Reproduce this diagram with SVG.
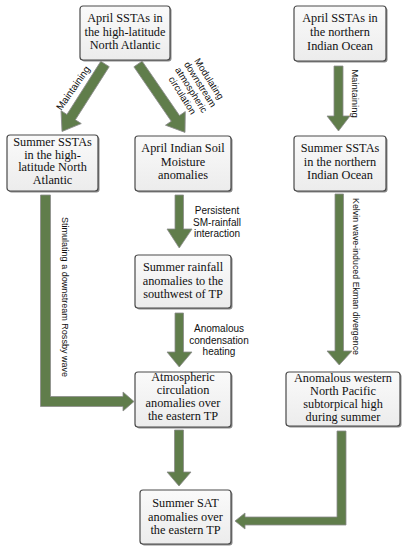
<svg xmlns="http://www.w3.org/2000/svg" width="406" height="550" viewBox="0 0 406 550">
<defs>
<linearGradient id="bg" x1="0" y1="0" x2="0" y2="1">
<stop offset="0" stop-color="#fafafa"/>
<stop offset="1" stop-color="#ececec"/>
</linearGradient>
</defs>
<style>
.box{fill:url(#bg);stroke:#4a4a4a;stroke-width:1.2}
.shd{fill:#8a8a8a}
.bt{font-family:"Liberation Serif","Times New Roman",serif;font-size:12.3px;fill:#111;text-anchor:middle}
.lb{font-family:"Liberation Sans",Arial,sans-serif;font-size:10px;fill:#111;text-anchor:middle}
.ar{fill:#607d4b;stroke:#8c8c8c;stroke-width:0.8;stroke-linejoin:miter}
</style>
<rect width="406" height="550" fill="#ffffff"/>

<g id="connectors">
<path class="ar" transform="translate(105,64) rotate(122.5)" d="M0,-5 L63,-5 L63,-12 L80,0 L63,12 L63,5 L0,5 Z"/>
<path class="ar" transform="translate(138,64) rotate(55.5)" d="M0,-5 L66,-5 L66,-12 L83,0 L66,12 L66,5 L0,5 Z"/>
<path class="ar" d="M334,66 L343,66 L343,116 L350,116 L338.5,131 L327,116 L334,116 Z"/>
<path class="ar" d="M335,194 L343.5,194 L343.5,351 L352,351 L339.25,365 L327,351 L335,351 Z"/>
<path class="ar" d="M175,195 L183.5,195 L183.5,229 L192,229 L179.25,248 L167,229 L175,229 Z"/>
<path class="ar" d="M175,313 L183.5,313 L183.5,352 L192,352 L179.25,367 L167,352 L175,352 Z"/>
<path class="ar" d="M174.5,430 L183.5,430 L183.5,472 L191,472 L179,486 L167,472 L174.5,472 Z"/>
<path class="ar" d="M40.5,195 L50.5,195 L50.5,396.5 L123,396.5 L123,392 L134,401.5 L123,411 L123,406.5 L40.5,406.5 Z"/>
<path class="ar" d="M337,431 L346,431 L346,525 L245,525 L245,529 L235,521 L245,513 L245,517 L337,517 Z"/>
</g>

<g id="edge-labels">
<text class="lb" transform="translate(73,88) rotate(-55)" y="3.5">Maintaining</text>
<g transform="translate(196,87) rotate(58)">
<text class="lb" style="font-size:9.5px" y="-12.25">Modulating</text>
<text class="lb" style="font-size:9.5px" y="-1.75">downstream</text>
<text class="lb" style="font-size:9.5px" y="8.75">atmospheric</text>
<text class="lb" style="font-size:9.5px" y="19.25">circulation</text>
</g>
<text class="lb" transform="translate(355.5,93.5) rotate(90)" y="3.5" style="font-size:9.5px">Maintaining</text>
<text class="lb" transform="translate(356,276.5) rotate(90)" y="3.5" style="font-size:9.5px" textLength="157" lengthAdjust="spacingAndGlyphs">Kelvin wave-induced Ekman divergence</text>
<text class="lb" transform="translate(65.5,297) rotate(90)" y="3.5" style="font-size:9.5px" textLength="160" lengthAdjust="spacingAndGlyphs">Stimulating a downstream Rossby wave</text>
<text class="lb" x="217" y="214">Persistent</text>
<text class="lb" x="217" y="225.5">SM-rainfall</text>
<text class="lb" x="217" y="237">interaction</text>
<text class="lb" x="219" y="332">Anomalous</text>
<text class="lb" x="219" y="343.5">condensation</text>
<text class="lb" x="219" y="355">heating</text>
</g>

<g id="nodeA">
<rect class="shd" x="81.5" y="7.5" width="90" height="54" rx="3"/>
<rect class="box" x="80" y="6" width="90" height="54" rx="3"/>
<text class="bt" x="125" y="22">April SSTAs in</text>
<text class="bt" x="125" y="35.5">the high-latitude</text>
<text class="bt" x="125" y="49">North Atlantic</text>
</g>

<g id="nodeB">
<rect class="shd" x="295.5" y="7.5" width="92" height="55" rx="3"/>
<rect class="box" x="294" y="6" width="92" height="55" rx="3"/>
<text class="bt" x="340" y="22">April SSTAs in</text>
<text class="bt" x="340" y="36">the northern</text>
<text class="bt" x="340" y="49.5">Indian Ocean</text>
</g>

<g id="nodeC">
<rect class="shd" x="8.5" y="136.5" width="91" height="56" rx="3"/>
<rect class="box" x="7" y="135" width="91" height="56" rx="3"/>
<text class="bt" x="52.5" y="146">Summer SSTAs</text>
<text class="bt" x="52.5" y="158.5">in the high-</text>
<text class="bt" x="52.5" y="171">latitude North</text>
<text class="bt" x="52.5" y="183.5">Atlantic</text>
</g>

<g id="nodeD">
<rect class="shd" x="136.5" y="137.5" width="96" height="55" rx="3"/>
<rect class="box" x="135" y="136" width="96" height="55" rx="3"/>
<text class="bt" x="183" y="152">April Indian Soil</text>
<text class="bt" x="183" y="165.5">Moisture</text>
<text class="bt" x="183" y="179">anomalies</text>
</g>

<g id="nodeE">
<rect class="shd" x="295.5" y="137.5" width="92" height="55" rx="3"/>
<rect class="box" x="294" y="136" width="92" height="55" rx="3"/>
<text class="bt" x="340" y="152">Summer SSTAs</text>
<text class="bt" x="340" y="165.5">in the northern</text>
<text class="bt" x="340" y="179">Indian Ocean</text>
</g>

<g id="nodeF">
<rect class="shd" x="136.5" y="256.5" width="96" height="53" rx="3"/>
<rect class="box" x="135" y="255" width="96" height="53" rx="3"/>
<text class="bt" x="183" y="271">Summer rainfall</text>
<text class="bt" x="183" y="284.5">anomalies to the</text>
<text class="bt" x="183" y="298">southwest of TP</text>
</g>

<g id="nodeG">
<rect class="shd" x="136.5" y="373.5" width="96" height="55" rx="3"/>
<rect class="box" x="135" y="372" width="96" height="55" rx="3"/>
<text class="bt" x="183" y="381">Atmospheric</text>
<text class="bt" x="183" y="394">circulation</text>
<text class="bt" x="183" y="407">anomalies over</text>
<text class="bt" x="183" y="420">the eastern TP</text>
</g>

<g id="nodeH">
<rect class="shd" x="287.5" y="373.5" width="114" height="54" rx="3"/>
<rect class="box" x="286" y="372" width="114" height="54" rx="3"/>
<text class="bt" x="343" y="382">Anomalous western</text>
<text class="bt" x="343" y="395">North Pacific</text>
<text class="bt" x="343" y="408">subtorpical high</text>
<text class="bt" x="343" y="421">during summer</text>
</g>

<g id="nodeI">
<rect class="shd" x="141.5" y="491.5" width="91" height="54" rx="3"/>
<rect class="box" x="140" y="490" width="91" height="54" rx="3"/>
<text class="bt" x="185.5" y="507">Summer SAT</text>
<text class="bt" x="185.5" y="520.5">anomalies over</text>
<text class="bt" x="185.5" y="534">the eastern TP</text>
</g>
</svg>
